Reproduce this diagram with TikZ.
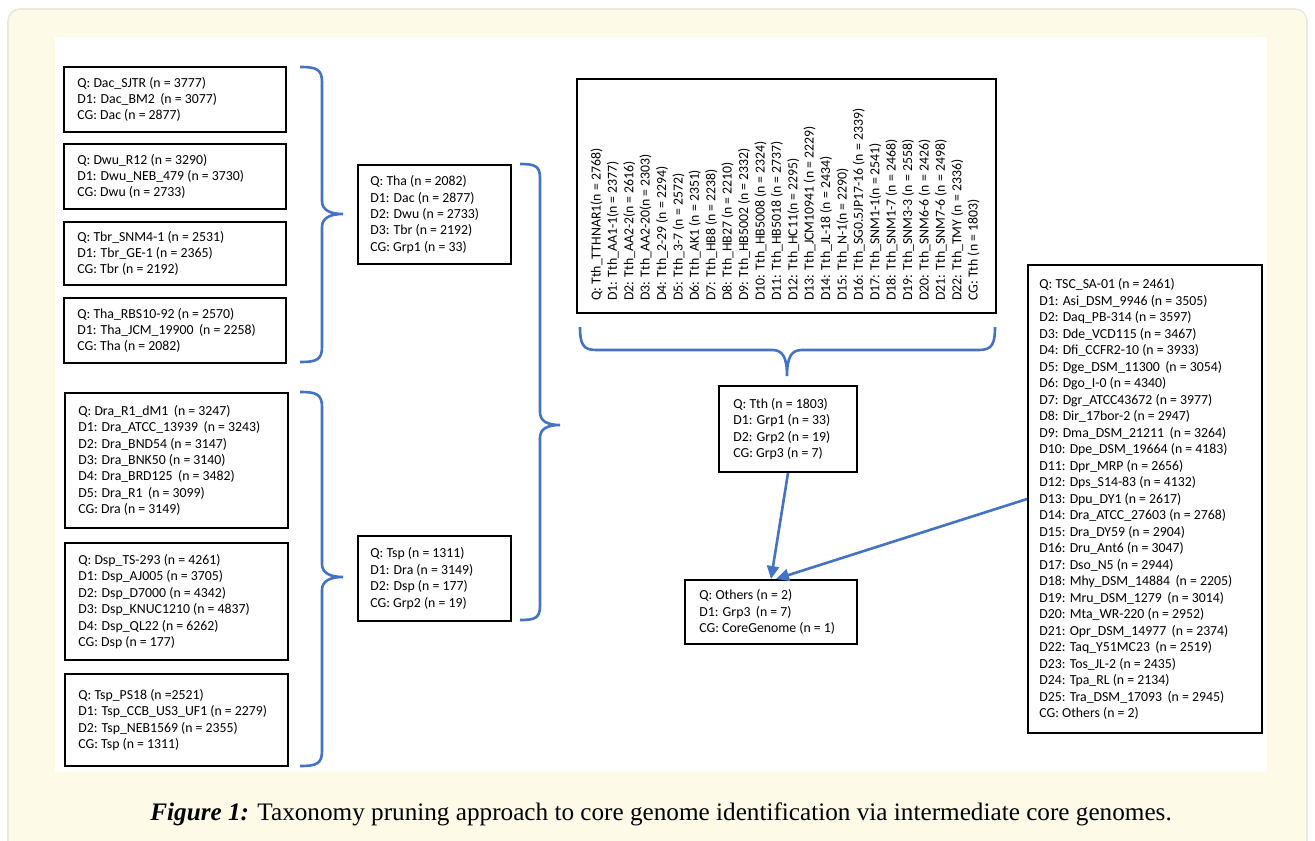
\documentclass[tikz,border=0pt]{standalone}
\usepackage{fontspec}
\setmainfont{Carlito}
\newfontfamily\capfont{Liberation Serif}
\usetikzlibrary{arrows.meta}
\definecolor{cream}{RGB}{254,250,232}
\definecolor{panelline}{RGB}{236,233,222}
\definecolor{obl}{RGB}{68,114,196}
\begin{document}
\begin{tikzpicture}[x=0.5pt,y=-0.5pt,
  box/.style={draw=black,line width=1pt,fill=white,inner sep=0pt,anchor=north west},
  txt/.style={inner sep=0pt,align=left,anchor=west,font=\fontsize{6.9}{8.2}\selectfont},
  brc/.style={draw=obl,line width=1.3pt},
  arr/.style={draw=obl,line width=1.3pt,-{Triangle[width=6pt,length=6.5pt]}}]
\useasboundingbox (0,0) rectangle (1315,840);
\begin{scope}
  \clip (0,0) rectangle (1315,840);
  \fill[white] (0,0) rectangle (1315,840);
  \draw[panelline,fill=cream,rounded corners=6pt,line width=0.8pt] (8,9) rectangle (1307,870);
\end{scope}
\fill[white] (55,37) rectangle (1267,772);

% left column, upper group
\node[box,minimum width=111pt,minimum height=32.5pt] (A) at (63,66) {};
\node[txt] (At) at ([xshift=7pt]A.west) {Q: Dac\_SJTR (n = 3777)\\D1: Dac\_BM2 \,(n = 3077)\\CG: Dac (n = 2877)};
\node[box,minimum width=111pt,minimum height=32.5pt] (B) at (63,143) {};
\node[txt] (Bt) at ([xshift=7pt]B.west) {Q: Dwu\_R12 (n = 3290)\\D1: Dwu\_NEB\_479 (n = 3730)\\CG: Dwu (n = 2733)};
\node[box,minimum width=111pt,minimum height=31.5pt] (C) at (63,221) {};
\node[txt] (Ct) at ([xshift=7pt]C.west) {Q: Tbr\_SNM4-1 (n = 2531)\\D1: Tbr\_GE-1 (n = 2365)\\CG: Tbr (n = 2192)};
\node[box,minimum width=111pt,minimum height=32.5pt] (D) at (63,297) {};
\node[txt] (Dt) at ([xshift=7pt]D.west) {Q: Tha\_RBS10-92 (n = 2570)\\D1: Tha\_JCM\_19900 \,(n = 2258)\\CG: Tha (n = 2082)};

% left column, lower group
\node[box,minimum width=111.5pt,minimum height=67.5pt] (E) at (64,392) {};
\node[txt] (Et) at ([xshift=7pt]E.west) {Q: Dra\_R1\_dM1 \,(n = 3247)\\D1: Dra\_ATCC\_13939 \,(n = 3243)\\D2: Dra\_BND54 (n = 3147)\\D3: Dra\_BNK50 (n = 3140)\\D4: Dra\_BRD125 \,(n = 3482)\\D5: Dra\_R1 \,(n = 3099)\\CG: Dra (n = 3149)};
\node[box,minimum width=111.5pt,minimum height=58.5pt] (F) at (64,542) {};
\node[txt] (Ft) at ([xshift=7pt]F.west) {Q: Dsp\_TS-293 (n = 4261)\\D1: Dsp\_AJ005 (n = 3705)\\D2: Dsp\_D7000 (n = 4342)\\D3: Dsp\_KNUC1210 (n = 4837)\\D4: Dsp\_QL22 (n = 6262)\\CG: Dsp (n = 177)};
\node[box,minimum width=111.5pt,minimum height=46pt] (G) at (64,673) {};
\node[txt] (Gt) at ([xshift=7pt]G.west) {Q: Tsp\_PS18 (n =2521)\\D1: Tsp\_CCB\_US3\_UF1 (n = 2279)\\D2: Tsp\_NEB1569 (n = 2355)\\CG: Tsp (n = 1311)};

% middle column
\node[box,minimum width=76.5pt,minimum height=49.5pt] (H) at (357,164) {};
\node[txt] (Ht) at ([xshift=6.5pt]H.west) {Q: Tha (n = 2082)\\D1: Dac (n = 2877)\\D2: Dwu (n = 2733)\\D3: Tbr (n = 2192)\\CG: Grp1 (n = 33)};
\node[box,minimum width=76.5pt,minimum height=42.5pt] (I) at (357,535) {};
\node[txt] (It) at ([xshift=6.5pt]I.west) {Q: Tsp (n = 1311)\\D1: Dra (n = 3149)\\D2: Dsp (n = 177)\\CG: Grp2 (n = 19)};

% rotated Tth box
\node[box,minimum width=209.5pt,minimum height=117pt] (T) at (576,78) {};
\node[txt,rotate=90,anchor=north west] (Tt) at (590,301) {Q: Tth\_TTHNAR1(n = 2768)\\D1: Tth\_AA1-1(n = 2377)\\D2: Tth\_AA2-2(n = 2616)\\D3: Tth\_AA2-20(n = 2303)\\D4: Tth\_2-29 (n = 2294)\\D5: Tth\_3-7 (n = 2572)\\D6: Tth\_AK1 (n = 2351)\\D7: Tth\_HB8 (n = 2238)\\D8: Tth\_HB27 (n = 2210)\\D9: Tth\_HB5002 (n = 2332)\\D10: Tth\_HB5008 (n = 2324)\\D11: Tth\_HB5018 (n = 2737)\\D12: Tth\_HC11(n = 2295)\\D13: Tth\_JCM10941 (n = 2229)\\D14: Tth\_JL-18 (n = 2434)\\D15: Tth\_N-1(n = 2290)\\D16: Tth\_SG0.5JP17-16 (n = 2339)\\D17: Tth\_SNM1-1(n = 2541)\\D18: Tth\_SNM1-7 (n = 2468)\\D19: Tth\_SNM3-3 (n = 2558)\\D20: Tth\_SNM6-6 (n = 2426)\\D21: Tth\_SNM7-6 (n = 2498)\\D22: Tth\_TMY (n = 2336)\\CG: Tth (n = 1803)};

% Tth summary and Others
\node[box,minimum width=69pt,minimum height=43pt] (J) at (718,385) {};
\node[txt] (Jt) at ([xshift=7.5pt]J.west) {Q: Tth (n = 1803)\\D1: Grp1 (n = 33)\\D2: Grp2 (n = 19)\\CG: Grp3 (n = 7)};
\node[box,minimum width=86pt,minimum height=32pt] (K) at (684,579) {};
\node[txt] (Kt) at ([xshift=7.5pt]K.west) {Q: Others (n = 2)\\D1: Grp3 \,(n = 7)\\CG: CoreGenome (n = 1)};

% right box
\node[box,minimum width=117pt,minimum height=234pt] (L) at (1027,264) {};
\node[txt,font=\fontsize{6.9}{8.25}\selectfont] (Lt) at ([xshift=6pt]L.west) {Q: TSC\_SA-01 (n = 2461)\\D1: Asi\_DSM\_9946 (n = 3505)\\D2: Daq\_PB-314 (n = 3597)\\D3: Dde\_VCD115 (n = 3467)\\D4: Dfi\_CCFR2-10 (n = 3933)\\D5: Dge\_DSM\_11300 \,(n = 3054)\\D6: Dgo\_I-0 (n = 4340)\\D7: Dgr\_ATCC43672 (n = 3977)\\D8: Dir\_17bor-2 (n = 2947)\\D9: Dma\_DSM\_21211 \,(n = 3264)\\D10: Dpe\_DSM\_19664 (n = 4183)\\D11: Dpr\_MRP (n = 2656)\\D12: Dps\_S14-83 (n = 4132)\\D13: Dpu\_DY1 (n = 2617)\\D14: Dra\_ATCC\_27603 (n = 2768)\\D15: Dra\_DY59 (n = 2904)\\D16: Dru\_Ant6 (n = 3047)\\D17: Dso\_N5 (n = 2944)\\D18: Mhy\_DSM\_14884 \,(n = 2205)\\D19: Mru\_DSM\_1279 \,(n = 3014)\\D20: Mta\_WR-220 (n = 2952)\\D21: Opr\_DSM\_14977 \,(n = 2374)\\D22: Taq\_Y51MC23 \,(n = 2519)\\D23: Tos\_JL-2 (n = 2435)\\D24: Tpa\_RL (n = 2134)\\D25: Tra\_DSM\_17093 \,(n = 2945)\\CG: Others (n = 2)};

% braces
\draw[brc] (300,67) .. controls (316,67) and (322,69) .. (322,82) -- (322,201) .. controls (322,210) and (330,214) .. (343,214) .. controls (330,214) and (322,218) .. (322,227) -- (322,347) .. controls (322,360) and (316,362) .. (300,362);
\draw[brc] (300,392) .. controls (316,392) and (322,394) .. (322,407) -- (322,564) .. controls (322,573) and (330,577) .. (343,577) .. controls (330,577) and (322,581) .. (322,590) -- (322,751) .. controls (322,764) and (316,766) .. (300,766);
\draw[brc] (520,164) .. controls (535,164) and (540,166) .. (540,178) -- (540,412) .. controls (540,421) and (547,425) .. (560,425) .. controls (547,425) and (540,429) .. (540,438) -- (540,606) .. controls (540,618) and (535,620) .. (520,620);
\draw[brc] (580,327) .. controls (580,344) and (583,350) .. (596,350) -- (772,350) .. controls (782,350) and (787,356) .. (787,376) .. controls (787,356) and (792,350) .. (802,350) -- (979,350) .. controls (992,350) and (995,344) .. (995,327);

% arrows
\draw[arr] (J.south) -- (K.north);
\draw[arr] (L.west) -- ([xshift=2.5pt]K.north);

% caption
\node[inner sep=0pt] (cap) at (661,814) {\capfont\fontsize{12.6}{14}\selectfont\textbf{\textit{Figure 1:}} Taxonomy pruning approach to core genome identification via intermediate core genomes.};
\end{tikzpicture}
\end{document}
